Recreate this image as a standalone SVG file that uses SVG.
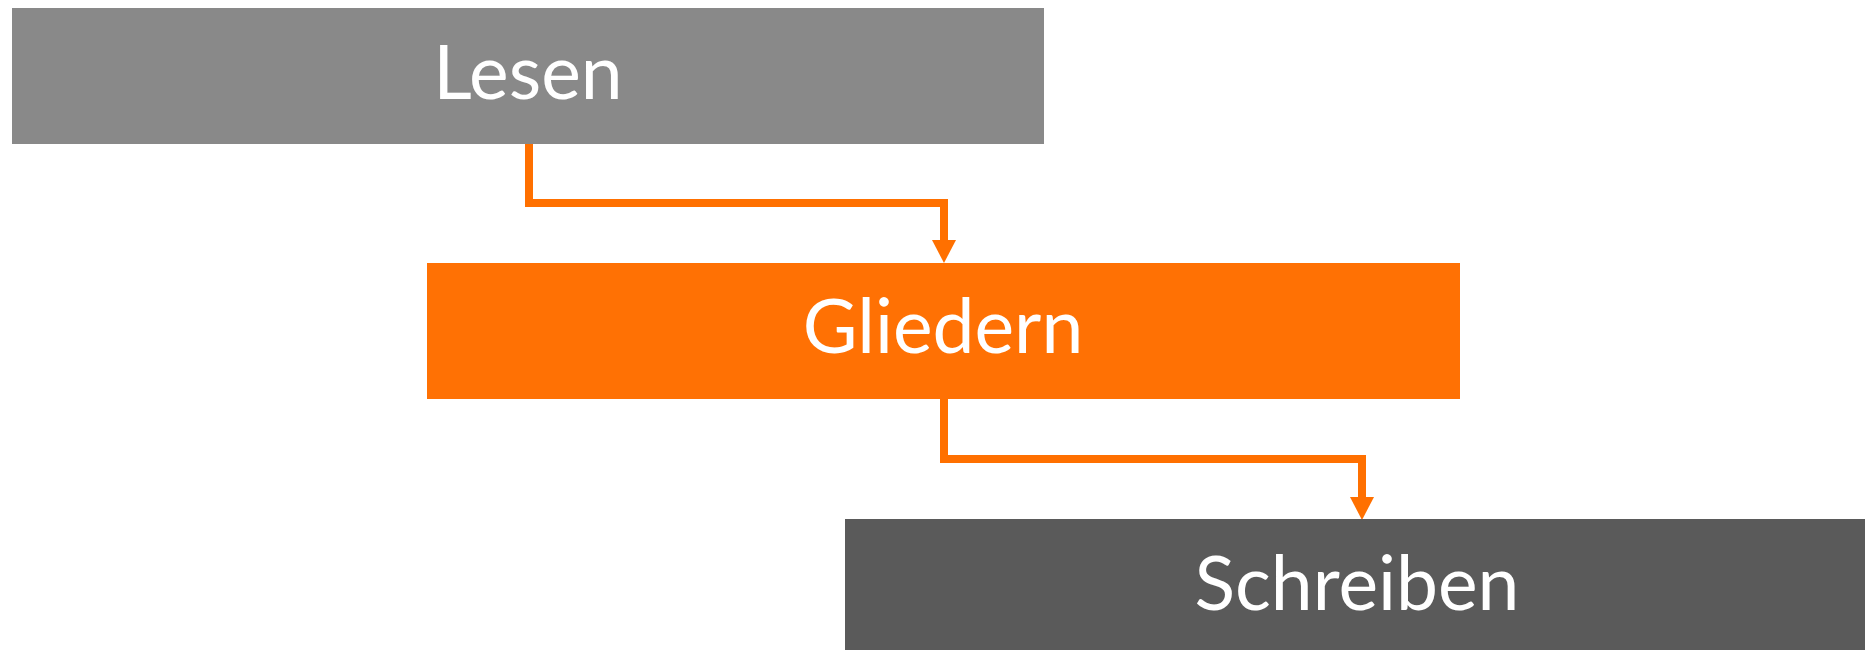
<svg xmlns="http://www.w3.org/2000/svg" width="1865" height="650" viewBox="0 0 1865 650">
<defs>
<style>
.lbl{font-family:Lato,"Open Sans",sans-serif;font-size:75px;fill:#ffffff;text-anchor:middle}
.conn{fill:none;stroke:#FF7000;stroke-width:8;stroke-linejoin:miter}
.head{fill:#FF7000}
</style>
</defs>
<rect width="1865" height="650" fill="#ffffff"/>
<g id="connectors">
<path class="conn" d="M529,143 V203 H944 V242"/>
<polygon class="head" points="932,240 956,240 944,263"/>
<path class="conn" d="M944,398 V459 H1362 V499"/>
<polygon class="head" points="1350,497 1374,497 1362,520"/>
</g>
<g id="lesen">
<rect x="12" y="8" width="1032" height="136" fill="#898989"/>
<text class="lbl" x="528" y="99">Lesen</text>
</g>
<g id="gliedern">
<rect x="427" y="263" width="1033" height="136" fill="#FF7104"/>
<text class="lbl" x="943" y="353">Gliedern</text>
</g>
<g id="schreiben">
<rect x="845" y="519" width="1020" height="131" fill="#5A5A5A"/>
<text class="lbl" x="1357" y="610">Schreiben</text>
</g>
</svg>
